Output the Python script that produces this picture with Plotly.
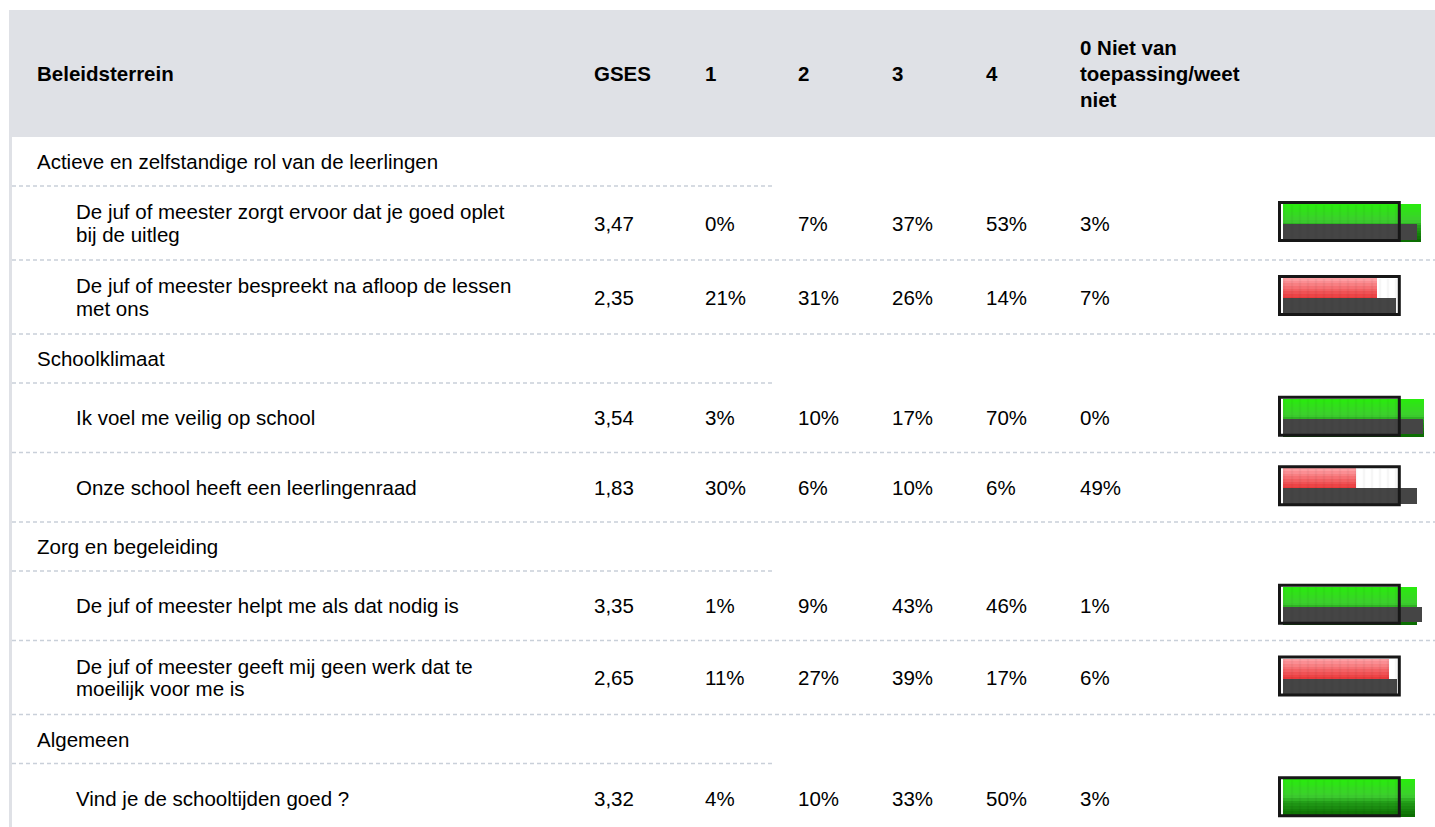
import plotly.graph_objects as go

# ---------------- data ----------------
header_labels = ["Beleidsterrein", "GSES", "1", "2", "3", "4",
                 ["0 Niet van", "toepassing/weet", "niet"]]
groups = ["Actieve en zelfstandige rol van de leerlingen", "Schoolklimaat",
          "Zorg en begeleiding", "Algemeen"]
questions = [
    ["De juf of meester zorgt ervoor dat je goed oplet", "bij de uitleg"],
    ["De juf of meester bespreekt na afloop de lessen", "met ons"],
    ["Ik voel me veilig op school"],
    ["Onze school heeft een leerlingenraad"],
    ["De juf of meester helpt me als dat nodig is"],
    ["De juf of meester geeft mij geen werk dat te", "moeilijk voor me is"],
    ["Vind je de schooltijden goed ?"],
]
question_group = [0, 0, 1, 1, 2, 2, 3]
gses = [3.47, 2.35, 3.54, 1.83, 3.35, 2.65, 3.32]
pct_1 = [0, 21, 3, 30, 1, 11, 4]
pct_2 = [7, 31, 10, 6, 9, 27, 10]
pct_3 = [37, 26, 17, 10, 43, 39, 33]
pct_4 = [53, 14, 70, 6, 46, 17, 50]
pct_0 = [3, 7, 0, 49, 1, 6, 3]
benchmark = [3.36, 2.84, 3.50, 3.36, 3.48, 2.85, None]
norm_score = 3.0

# ---------------- layout constants ----------------
W, H = 1435, 827
FONT = "Liberation Sans, Arial, Helvetica, sans-serif"
FS = 20.5
HEADER_TOP, HEADER_BOTTOM = 10, 137
LEFT_EDGE = 9
GROUP_H, ITEM1_H, ITEM2_H = 49, 69.5, 74
LINE_SP = 22.5
HEAD_SP = 26
TEXT_SHIFT = -2
col_x = [37, 594, 705, 798, 892, 986, 1080]
GROUP_X, ITEM_X = 37, 76
SHORT_LINE_END = 772
DASH_COLOR = "#c9d0d9"
HEADER_BG = "#dfe1e6"
# bar axis: value 0 at px 1282.5, 40 px per unit
X0_PX, PX_PER_UNIT = 1282.5, 40.0
FRAME_LO, FRAME_HI = -0.075, 2.92

fig = go.Figure()
shapes = []
ann = []


def px(x):
    return x / W


def text(x, y, s, bold=False):
    ann.append(dict(x=px(x + TEXT_SHIFT), y=y, xref="paper", yref="y",
                    text=f"<b>{s}</b>" if bold else s,
                    showarrow=False, xanchor="left", yanchor="middle",
                    font=dict(family=FONT, size=FS, color="#000000")))


def multiline(x, yc, lines, sp, bold=False):
    n = len(lines)
    for i, ln in enumerate(lines):
        text(x, yc + (i - (n - 1) / 2) * sp, ln, bold)


# header band + left border
shapes.append(dict(type="rect", xref="paper", yref="y", x0=px(LEFT_EDGE), x1=1,
                   y0=HEADER_TOP, y1=HEADER_BOTTOM, fillcolor=HEADER_BG, line_width=0, layer="below"))
shapes.append(dict(type="rect", xref="paper", yref="y", x0=px(LEFT_EDGE), x1=px(LEFT_EDGE + 3),
                   y0=HEADER_BOTTOM, y1=H, fillcolor=HEADER_BG, line_width=0, layer="below"))

hc = (HEADER_TOP + HEADER_BOTTOM) / 2
for x, lab in zip(col_x, header_labels):
    if isinstance(lab, list):
        multiline(x, hc, lab, HEAD_SP, bold=True)
    else:
        text(x, hc, lab, bold=True)

# rows
y = HEADER_BOTTOM
centers = []
for g, gname in enumerate(groups):
    text(GROUP_X, y + GROUP_H / 2, gname)
    y += GROUP_H
    shapes.append(dict(type="line", xref="paper", yref="y", x0=px(LEFT_EDGE + 3), x1=px(SHORT_LINE_END),
                       y0=y, y1=y, line=dict(color=DASH_COLOR, width=1.5, dash="4px,3px")))
    for i, qg in enumerate(question_group):
        if qg != g:
            continue
        h = ITEM2_H if len(questions[i]) > 1 else ITEM1_H
        c = y + h / 2
        centers.append(c)
        multiline(ITEM_X, c, questions[i], LINE_SP)
        vals = [f"{gses[i]:.2f}".replace(".", ","), f"{pct_1[i]}%", f"{pct_2[i]}%",
                f"{pct_3[i]}%", f"{pct_4[i]}%", f"{pct_0[i]}%"]
        for x, v in zip(col_x[1:], vals):
            text(x, c, v)
        y += h
        shapes.append(dict(type="line", xref="paper", yref="y", x0=px(LEFT_EDGE + 3), x1=1,
                           y0=y, y1=y, line=dict(color=DASH_COLOR, width=1.5, dash="4px,3px")))


# ---------------- bars ----------------
def lerp(stops, t):
    for (t0, c0), (t1, c1) in zip(stops[:-1], stops[1:]):
        if t <= t1:
            f = (t - t0) / (t1 - t0) if t1 > t0 else 0
            return "rgb(%d,%d,%d)" % tuple(round(a + (b - a) * f) for a, b in zip(c0, c1))
    return "rgb(%d,%d,%d)" % stops[-1][1]


green_stops = [(0, (40, 236, 12)), (0.45, (62, 205, 48)), (0.6, (35, 160, 25)), (1, (10, 105, 0))]
red_stops = [(0, (255, 165, 170)), (0.5, (236, 60, 62)), (1, (200, 30, 30))]

bar_c = [c - 1.5 for c in centers]
TOP_OFF, BOT_OFF = -17, 20
NB = 14
bh = (BOT_OFF - TOP_OFF) / NB
for k in range(NB):
    t = (k + 0.5) / NB
    cols = [lerp(green_stops if v >= norm_score else red_stops, t) for v in gses]
    fig.add_trace(go.Bar(x=gses, y=[c + TOP_OFF + (k + 0.5) * bh for c in bar_c], base=0,
                         width=bh + 0.6, orientation="h", marker=dict(color=cols, line_width=0),
                         hoverinfo="skip", showlegend=False))

# benchmark (dark) bars
fig.add_trace(go.Bar(x=benchmark, y=[c + 10.25 for c in bar_c], base=0, width=15.5, orientation="h",
                     marker=dict(color="#454545", line_width=0), hoverinfo="skip", showlegend=False))

# stripe texture inside the frame
fig.add_trace(go.Bar(x=[FRAME_HI - FRAME_LO] * len(bar_c), y=[c + 0.5 for c in bar_c], base=FRAME_LO,
                     width=35, orientation="h",
                     marker=dict(color="rgba(0,0,0,0)", line_width=0,
                                 pattern=dict(shape="|", size=8, solidity=0.3,
                                              fgcolor="rgba(0,0,0,0.07)", bgcolor="rgba(0,0,0,0)")),
                     hoverinfo="skip", showlegend=False))

# frames
for c in bar_c:
    shapes.append(dict(type="rect", xref="x", yref="y", x0=FRAME_LO, x1=FRAME_HI,
                       y0=c - 19, y1=c + 19, line=dict(color="#171717", width=3),
                       fillcolor="rgba(0,0,0,0)"))

fig.update_layout(
    width=W, height=H, margin=dict(l=0, r=0, t=0, b=0),
    paper_bgcolor="white", plot_bgcolor="white",
    barmode="overlay", bargap=0,
    xaxis=dict(range=[-X0_PX / PX_PER_UNIT, (W - X0_PX) / PX_PER_UNIT], visible=False, fixedrange=True),
    yaxis=dict(range=[H, 0], visible=False, fixedrange=True),
    shapes=shapes, annotations=ann, showlegend=False,
)

fig.write_html("out.html", config={"displayModeBar": False, "staticPlot": True},
               post_script="document.body.style.margin='0';document.body.style.overflow='hidden';")
